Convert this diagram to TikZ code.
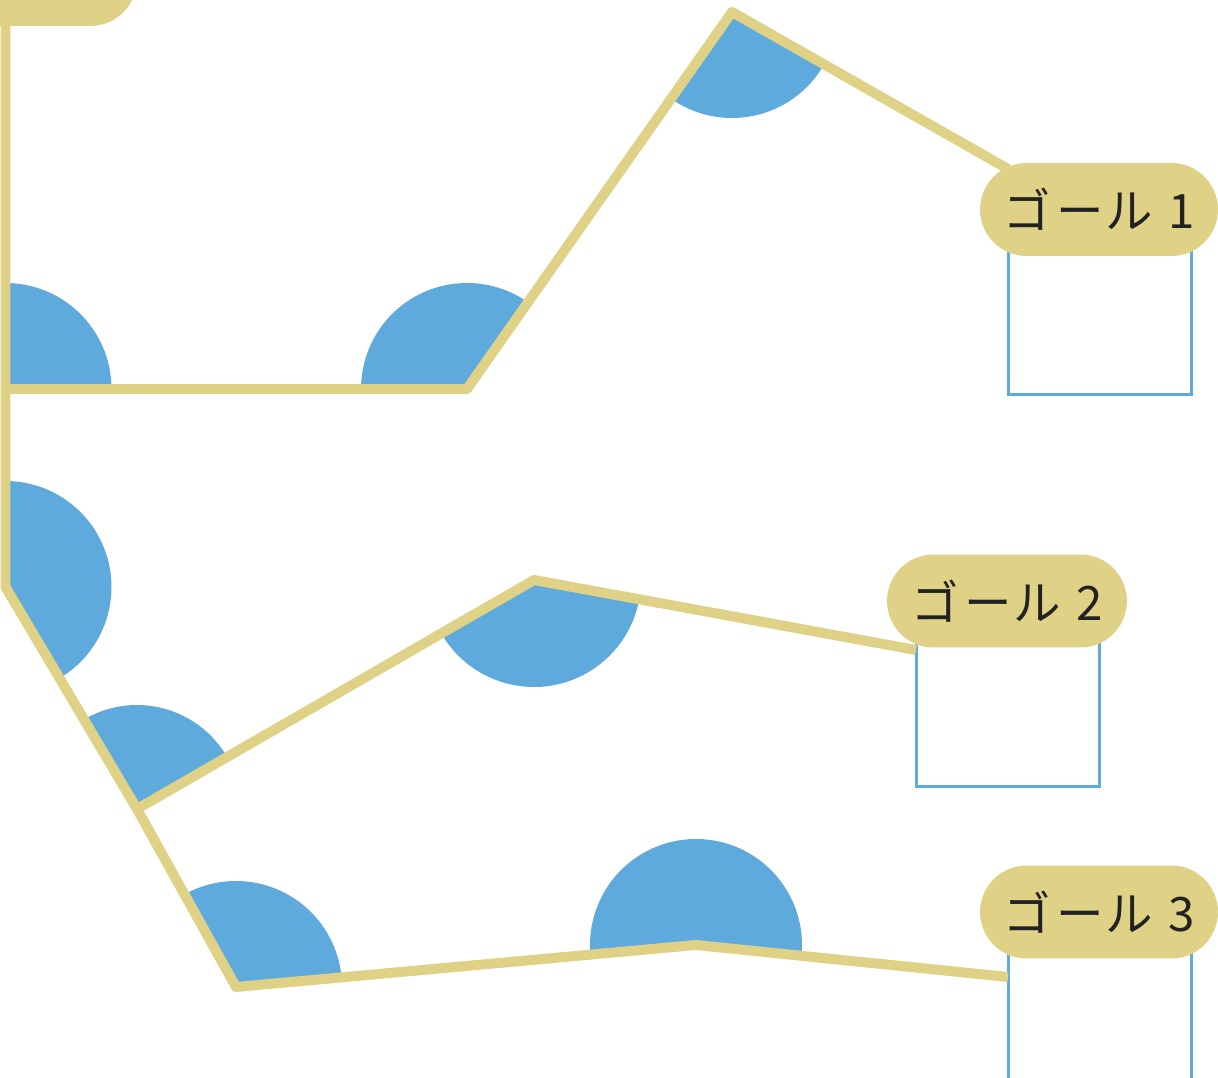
\documentclass[tikz,border=0pt]{standalone}
\usepackage{fontspec}
\newfontfamily\cjk{Noto Sans CJK JP}
\usetikzlibrary{shapes.misc}
\definecolor{routeyellow}{HTML}{DFD286}
\definecolor{sectorblue}{HTML}{5EAADC}
\definecolor{labeltext}{HTML}{222222}
\newcommand{\goaltext}[1]{ゴ\kern3.5pt ー\kern1pt ル\kern2.5pt\ #1}
\tikzset{
  route/.style={draw=routeyellow, line width=0.2cm, line join=round, line cap=butt},
  sector/.style={fill=sectorblue},
  goalbox/.style={draw=sectorblue, line width=0.06cm},
  pill/.style={rounded rectangle, fill=routeyellow, text=labeltext, inner sep=0pt,
    minimum height=1.86cm, font=\cjk\fontsize{27}{30}\selectfont},
}
\begin{document}
\begin{tikzpicture}[x=0.02cm, y=0.02cm]
\useasboundingbox (0,0) rectangle (1218,-1078);
\clip (0,0) rectangle (1218,-1078);
% vertices
\coordinate (S) at (5.5,-20);
\coordinate (A) at (5.5,-389);
\coordinate (B) at (467,-389);
\coordinate (C) at (732,-12);
\coordinate (G1end) at (1008,-169);
\coordinate (D) at (5.5,-587);
\coordinate (E) at (137,-809);
\coordinate (F) at (534,-580);
\coordinate (G2end) at (916,-650);
\coordinate (H) at (236,-987);
\coordinate (I) at (696,-945);
\coordinate (G3end) at (1008,-977);
% goal boxes
\draw[goalbox] (1008,-209) rectangle (1191,-394);
\draw[goalbox] (916,-601) rectangle (1099,-786);
\draw[goalbox] (1008,-912) rectangle (1191,-1100);
% angle sectors
\fill[sector] (A) -- ++(0:106) arc[start angle=0, end angle=90, radius=106] -- cycle;
\fill[sector] (B) -- ++(54.9:106) arc[start angle=54.9, end angle=180, radius=106] -- cycle;
\fill[sector] (C) -- ++(234.9:106) arc[start angle=234.9, end angle=330.4, radius=106] -- cycle;
\fill[sector] (D) -- ++(-59.4:106) arc[start angle=-59.4, end angle=90, radius=106] -- cycle;
\fill[sector] (E) -- ++(30:104) arc[start angle=30, end angle=120.6, radius=104] -- cycle;
\fill[sector] (F) -- ++(210:107) arc[start angle=210, end angle=349.7, radius=107] -- cycle;
\fill[sector] (H) -- ++(5.2:106) arc[start angle=5.2, end angle=119.1, radius=106] -- cycle;
\fill[sector] (I) -- ++(-5.9:106) arc[start angle=-5.9, end angle=185.2, radius=106] -- cycle;
% routes
\draw[route] (S) -- (A) -- (D) -- (E) -- (H) -- (I) -- (G3end);
\draw[route] (A) -- (B) -- (C) -- (G1end);
\draw[route] (E) -- (F) -- (G2end);
% labels
\node[pill, minimum width=4.92cm] (start) at (14,20.5) {スタート};
\node[pill, minimum width=4.76cm] (goal1) at (1099,-209.5) {\goaltext{1}};
\node[pill, minimum width=4.80cm] (goal2) at (1007,-601) {\goaltext{2}};
\node[pill, minimum width=4.76cm] (goal3) at (1099,-912) {\goaltext{3}};
\end{tikzpicture}
\end{document}
